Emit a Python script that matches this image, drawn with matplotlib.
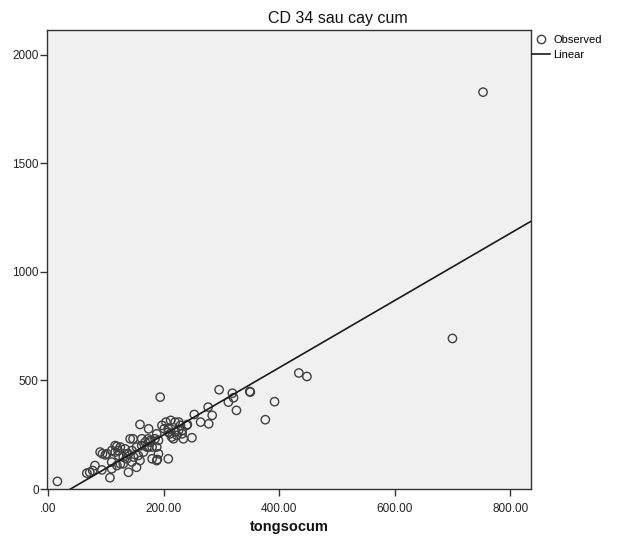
import numpy as np
import matplotlib
matplotlib.use("Agg")
import matplotlib.pyplot as plt
from matplotlib.ticker import FuncFormatter
from matplotlib.lines import Line2D

title = "CD 34 sau cay cum"
x_label = "tongsocum"
x_ticks = [0, 200, 400, 600, 800]
y_ticks = [0, 500, 1000, 1500, 2000]

tongsocum = [
    16, 67, 72, 77, 81, 93, 107, 110, 139, 130,
    90, 94, 99, 102,
    116, 119, 121, 125, 133, 136, 145, 153, 162, 168, 177, 185, 180, 171, 165, 156,
    148, 139, 130, 122, 116, 110,
    110, 119, 125, 136, 145, 153, 159, 180, 191, 188, 208, 189,
    142, 147, 159, 162, 174, 173, 177, 174, 188, 191, 188, 194,
    197, 204, 208, 211, 214, 217, 220, 226, 229, 223, 232, 240, 249,
    201, 208, 220, 226, 232, 234, 212, 241,
    253, 264, 277, 278, 284, 296, 312, 319, 321, 326, 349, 350, 376, 392,
    434, 448, 700, 753,
]
cd34 = [
    35, 73, 77, 85, 108, 88, 52, 93, 77, 116,
    170, 162, 157, 162,
    200, 196, 177, 193, 185, 162, 177, 193, 200, 216, 216, 231, 193, 193, 170, 154,
    147, 162, 147, 154, 170, 177,
    124, 108, 116, 139, 124, 100, 131, 139, 162, 131, 139, 136,
    231, 231, 297, 231, 277, 231, 224, 193, 254, 224, 193, 423,
    293, 308, 277, 254, 239, 231, 308, 308, 293, 247, 270, 293, 236,
    277, 262, 262, 270, 254, 231, 316, 297,
    343, 308, 377, 300, 339, 457, 400, 441, 420, 362, 449, 446, 319, 402,
    534, 518, 693, 1827,
]

x = np.array(tongsocum, dtype=float)
y = np.array(cd34, dtype=float)
slope, intercept = np.polyfit(x, y, 1)

plt.rcParams['font.family'] = ['Liberation Sans', 'DejaVu Sans']

fig = plt.figure(figsize=(6.24, 5.43), dpi=100)
ax = fig.add_axes([47/624, 1 - 489/543, (531-47)/624, (489-30)/543])
ax.set_facecolor('#F0F0F0')

ax.scatter(x, y, s=36, facecolors='none', edgecolors='#404040', linewidths=1.0, zorder=3)
xmin, xmax = -2, 836
xl = np.array([xmin, xmax])
ax.plot(xl, slope * xl + intercept, color='#1a1a1a', lw=1.2, zorder=4)

ax.set_xlim(xmin, xmax)
ax.set_ylim(0, 2113)
ax.set_xticks(x_ticks)
ax.set_yticks(y_ticks)
ax.xaxis.set_major_formatter(FuncFormatter(lambda v, p: ("%.2f" % v).lstrip('0') if v == 0 else "%.2f" % v))
ax.yaxis.set_major_formatter(FuncFormatter(lambda v, p: "%d" % v))
ax.tick_params(axis='both', direction='out', length=5, width=1, color='#333333',
               labelsize=8.5, labelcolor='#222222', top=False, right=False)
ax.tick_params(axis='x', pad=5)
ax.tick_params(axis='y', pad=1)
for s in ax.spines.values():
    s.set_color('#333333')
    s.set_linewidth(1.0)

fig.text(338/624, 1 - 18/543, title, ha='center', va='center', fontsize=11.5, color='#111111')
fig.text(289/624, 1 - 527/543, x_label, ha='center', va='center', fontsize=10.5,
         fontweight='bold', color='#111111')

handles = [
    Line2D([], [], marker='o', ls='none', mfc='none', mec='#404040', ms=6, mew=1.0),
    Line2D([], [], color='#1a1a1a', lw=1.2),
]
fig.legend(handles, ['Observed', 'Linear'], loc='upper left',
           bbox_to_anchor=(532/624, 1 - 35/543), frameon=False, fontsize=8,
           handlelength=1.6, handletextpad=0.3, labelspacing=0.45, borderaxespad=0,
           borderpad=0)

fig.savefig('out.png', dpi=100)
